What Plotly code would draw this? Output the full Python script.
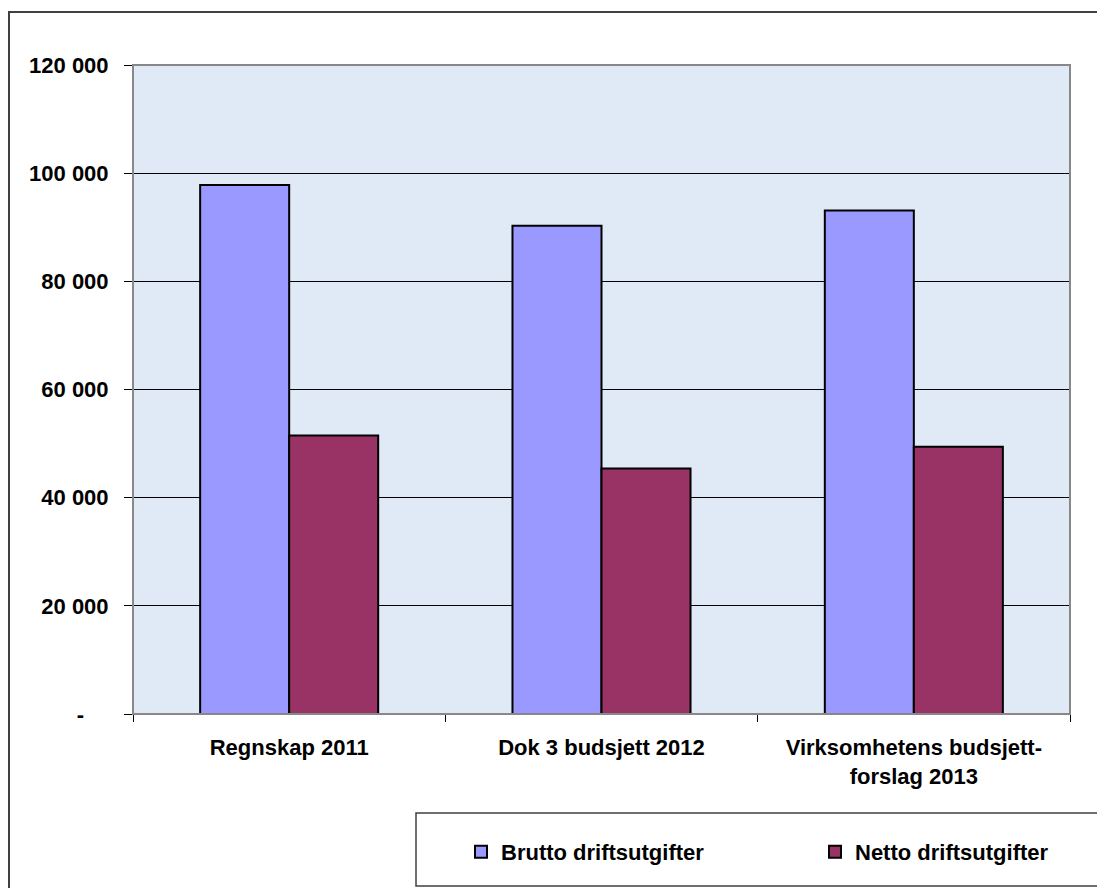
import plotly.graph_objects as go

categories = ["Regnskap 2011", "Dok 3 budsjett 2012", "Virksomhetens budsjett-<br>forslag 2013"]
brutto = [97800, 90300, 93100]
netto = [51500, 45400, 49400]
series_names = ["Brutto driftsutgifter", "Netto driftsutgifter"]
y_tickvals = [0, 20000, 40000, 60000, 80000, 100000, 120000]
y_ticktext = ["-\u00a0\u00a0\u00a0\u00a0", "20 000", "40 000", "60 000", "80 000", "100 000", "120 000"]

W, H = 1105, 888
OFF = 8  # default page body margin
# target positions on the page
PL, PR, PT, PB = 133, 1070, 65, 714
L, R, T, B = PL - OFF, PR - OFF, PT - OFF, PB - OFF
pw, ph = R - L, B - T


def px_x(page_x):
    return (page_x - PL) / pw


def px_y(page_y):
    return (PB - page_y) / ph


FONT = "Liberation Sans, Arial, sans-serif"

fig = go.Figure()
fig.add_trace(go.Bar(x=categories, y=brutto, name=series_names[0],
                     marker=dict(color="#9999ff", line=dict(color="#000000", width=2))))
fig.add_trace(go.Bar(x=categories, y=netto, name=series_names[1],
                     marker=dict(color="#993366", line=dict(color="#000000", width=2))))

fig.update_layout(
    width=W, height=H, autosize=False,
    margin=dict(l=L, r=W - R, t=T, b=H - B, pad=0, autoexpand=False),
    paper_bgcolor="white",
    plot_bgcolor="#dfeaf6",
    barmode="group", bargap=0.43, bargroupgap=0,
    font=dict(family=FONT, size=22, color="#000000", weight="bold"),
    showlegend=True,
    legend=dict(orientation="h", x=px_x(461), xanchor="left", y=px_y(852), yanchor="middle",
                bgcolor="rgba(0,0,0,0)", borderwidth=0,
                font=dict(family=FONT, size=22, color="#000000", weight="bold"),
                entrywidth=309, entrywidthmode="pixels", traceorder="normal"),
    xaxis=dict(showline=True, linecolor="#000000", linewidth=1, automargin=False,
               ticks="outside", tickson="boundaries", ticklen=7, tickcolor="#000000", tickwidth=1,
               tickangle=0, ticklabelstandoff=14,
               tickfont=dict(family=FONT, size=22, color="#000000", weight="bold"),
               showgrid=False, fixedrange=True),
    yaxis=dict(range=[0, 120000], tickvals=y_tickvals, ticktext=y_ticktext, automargin=False,
               showline=True, linecolor="#000000", linewidth=1,
               ticks="outside", ticklen=8, tickcolor="#000000", tickwidth=1,
               ticklabelstandoff=11,
               tickfont=dict(family=FONT, size=22, color="#000000", weight="bold"),
               showgrid=True, gridcolor="#000000", gridwidth=1, zeroline=False, fixedrange=True),
    shapes=[
        dict(type="rect", xref="paper", yref="paper", x0=0, x1=1, y0=0, y1=1,
             line=dict(color="#888888", width=2), layer="above"),
        dict(type="rect", xref="paper", yref="paper", x0=px_x(9), x1=px_x(1130),
             y0=px_y(910), y1=px_y(12), line=dict(color="#404040", width=2), layer="above"),
        dict(type="rect", xref="paper", yref="paper", x0=px_x(416), x1=px_x(1130),
             y0=px_y(886), y1=px_y(813), line=dict(color="#404040", width=1.5), layer="above"),
    ],
)

fig.write_html("out.html", config={"responsive": False})
